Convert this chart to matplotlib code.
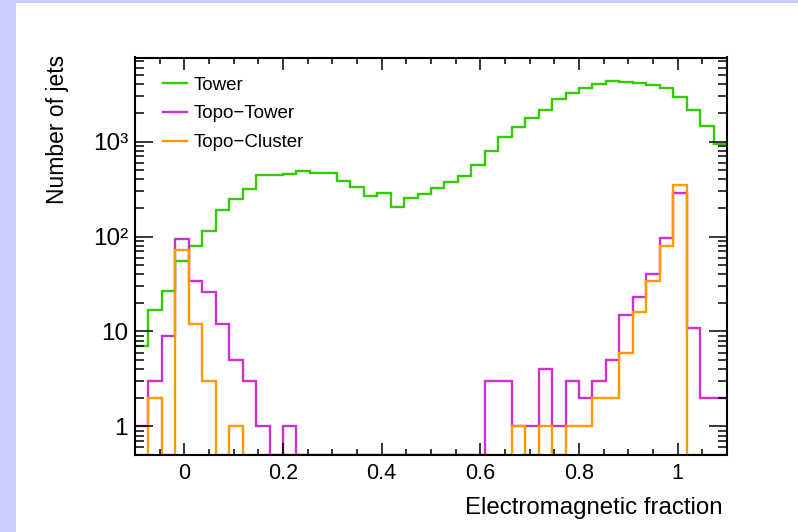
import numpy as np
import matplotlib
matplotlib.use("Agg")
import matplotlib.pyplot as plt
from matplotlib.ticker import MultipleLocator, LogLocator, FuncFormatter, NullFormatter
from matplotlib.patches import Rectangle

plt.rcParams['font.family'] = ['Liberation Sans', 'DejaVu Sans']

# 44 bins from -0.1 to 1.1
edges = np.linspace(-0.1, 1.1, 45)

tower = [7, 17, 27, 55, 80, 115, 191, 249, 315, 443, 443, 453, 491, 472, 465,
         386, 336, 268, 286, 204, 254, 281, 323, 379, 435, 569, 804, 1112, 1439,
         1763, 2157, 2813, 3231, 3650, 4020, 4355, 4280, 4180, 3955, 3650, 2977,
         2157, 1473, 946]
topo_tower = [1, 3, 9, 95, 34, 26, 12, 5, 3, 1, 0, 1,
              0, 0, 0, 0, 0, 0, 0, 0, 0, 0, 0, 0, 0, 0,
              3, 3, 1, 1, 4, 1, 3, 2, 3, 5, 15, 23, 40, 96, 290, 11, 2, 2]
topo_cluster = [0, 2, 0, 72, 12, 3, 0, 1,
                0, 0, 0, 0, 0, 0, 0, 0, 0, 0, 0, 0, 0, 0, 0, 0, 0, 0, 0, 0,
                1, 0, 1, 0, 1, 1, 2, 2, 6, 16, 34, 80, 350, 0, 0, 0]

series = [tower, topo_tower, topo_cluster]
labels = ["Tower", "Topo\u2212Tower", "Topo\u2212Cluster"]
colors = ["#33cc00", "#cc33cc", "#ff9900"]

ymin, ymax = 0.5, 7700

fig = plt.figure(figsize=(7.98, 5.32), dpi=100, facecolor="#ccccff")
fig.patches.append(Rectangle((16 / 798, 0), 1, 1 - 3 / 532, transform=fig.transFigure,
                             facecolor="white", edgecolor="none", zorder=-10))
ax = fig.add_axes([135 / 798, 77 / 532, 592 / 798, 397.5 / 532])
ax.patch.set_alpha(0)

for vals, lab, col in zip(series, labels, colors):
    # empty bins are drawn on the frame, like ROOT does
    ax.stairs(np.maximum(np.array(vals, dtype=float), ymin), edges, baseline=None,
              color=col, lw=1.7, label=lab)

ax.set_yscale("log")
ax.set_xlim(-0.1, 1.1)
ax.set_ylim(ymin, ymax)

ax.xaxis.set_major_locator(MultipleLocator(0.2))
ax.xaxis.set_minor_locator(MultipleLocator(0.05))
ax.xaxis.set_major_formatter(FuncFormatter(lambda v, p: f"{abs(v) if abs(v) < 1e-9 else v:g}"))

ylabels = {1: "1", 10: "10", 100: "10\u00b2", 1000: "10\u00b3"}
ax.yaxis.set_major_locator(LogLocator(base=10))
ax.yaxis.set_minor_locator(LogLocator(base=10, subs=np.arange(2, 10)))
ax.yaxis.set_major_formatter(FuncFormatter(lambda v, p: ylabels.get(int(round(v)), "")))
ax.yaxis.set_minor_formatter(NullFormatter())

ax.tick_params(which="both", direction="in", top=True, right=True, width=1.1,
               colors="black")
ax.tick_params(axis="x", which="major", length=8.6, pad=6, labelsize=15.5)
ax.tick_params(axis="x", which="minor", length=4.3)
ax.tick_params(axis="y", which="major", length=13, pad=5, labelsize=17.5)
ax.tick_params(axis="y", which="minor", length=6.5)
for sp in ax.spines.values():
    sp.set_linewidth(1.5)

ax.set_xlabel("Electromagnetic fraction", fontsize=17.3, loc="right")
ax.xaxis.set_label_coords(0.9916, -0.106)
ax.set_ylabel("Number of jets", fontsize=16.5, loc="top")
ax.yaxis.set_label_coords(-0.112, 1.007)

ax.legend(loc="upper left", bbox_to_anchor=(0.047, 0.952), frameon=False,
          fontsize=13.5, handlelength=1.3, handletextpad=0.35, labelspacing=0.62,
          borderpad=0, borderaxespad=0)

fig.savefig("out.png", dpi=100, facecolor=fig.get_facecolor())
